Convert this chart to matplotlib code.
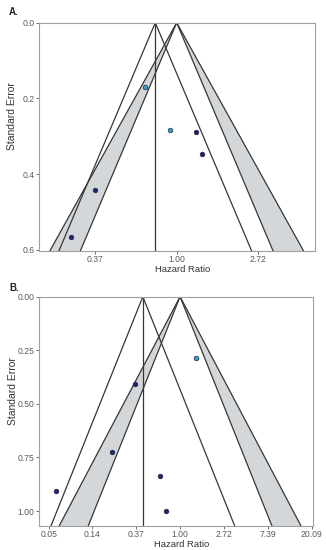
import numpy as np
import matplotlib
matplotlib.use("Agg")
import matplotlib.pyplot as plt

# ---- Data (log hazard ratio, standard error) ----
a_lnhr = [-0.385, -0.086, 0.233, 0.314, -1.006, -1.297]
a_se = [0.170, 0.283, 0.288, 0.346, 0.443, 0.567]
a_group = ["cyan", "cyan", "navy", "navy", "navy", "navy"]
a_pooled = -0.263

b_lnhr = [0.365, -1.02, -1.56, -0.457, -2.83, -0.326]
b_se = [0.286, 0.406, 0.723, 0.837, 0.908, 1.00]
b_group = ["cyan", "navy", "navy", "navy", "navy", "navy"]
b_pooled = -0.85

a_xticks = [-1, 0, 1]
b_xticks = [-3, -2, -1, 0, 1, 2, 3]
a_yticks = [0.0, 0.2, 0.4, 0.6]
a_ylabels = ["0.0", "0.2", "0.4", "0.6"]
b_yticks = [0.0, 0.25, 0.5, 0.75, 1.0]
b_ylabels = ["0.00", "0.25", "0.50", "0.75", "1.00"]

z_inner, z_outer = 1.96, 2.58

colors = {"navy": "#1c2570", "cyan": "#2aaac4"}
LINE = "#363636"
FILL = "#d4d7da"
SPINE = "#a0a0a0"
TXT = "#5a5a5a"
NARROW = ["Liberation Sans Narrow", "Liberation Sans", "DejaVu Sans"]
REG = ["Liberation Sans", "DejaVu Sans"]

fig = plt.figure(figsize=(3.26, 5.5), dpi=100)


def panel(rect, lnhr, se, group, pooled, xlim, ylim, xticks, yticks, ylabels, letter, lpos):
    ax = fig.add_axes(rect)
    s = np.array([0.0, 3.0])
    # contour-enhanced shading centred at HR = 1
    for sign in (-1, 1):
        ax.fill_betweenx(s, sign * z_inner * s, sign * z_outer * s,
                         color=FILL, lw=0, zorder=1)
        for z in (z_inner, z_outer):
            ax.plot(sign * z * s, s, color=LINE, lw=0.9, zorder=2)
        # pooled-estimate funnel
        ax.plot(pooled + sign * z_inner * s, s, color=LINE, lw=0.9, zorder=2)
    ax.plot([pooled, pooled], [0, ylim[1]], color=LINE, lw=0.9, zorder=2)
    for x, y, g in zip(lnhr, se, group):
        ax.scatter(x, y, s=11, color=colors[g], edgecolor="#222244",
                   linewidth=0.5, zorder=4)
    ax.set_xlim(*xlim)
    ax.set_ylim(ylim[1], ylim[0])
    ax.set_xticks(xticks)
    ax.set_xticklabels(["%.2f" % np.exp(t) for t in xticks], family=NARROW)
    ax.set_yticks(yticks)
    ax.set_yticklabels(ylabels, family=NARROW)
    ax.tick_params(labelsize=6.2, colors=TXT, length=2, width=0.6, pad=1.3)
    for sp in ax.spines.values():
        sp.set_color(SPINE)
        sp.set_linewidth(0.8)
    ax.set_xlabel("Hazard Ratio", fontsize=6.8, color="#333333", family=NARROW)
    ax.set_ylabel("Standard Error", fontsize=7.5, color="#333333", family=REG)
    ax.xaxis.set_label_coords(0.52, -0.064)
    ax.yaxis.set_label_coords(-0.078, 0.59)
    fig.text(lpos[0], lpos[1], letter, fontsize=7, fontweight="bold",
             color="#222222", ha="left", va="center", family=REG)
    return ax


panel([0.1196, 0.5442, 0.8466, 0.4145], a_lnhr, a_se, a_group, a_pooled,
      (-1.69, 1.697), (0.0, 0.6027), a_xticks, a_yticks, a_ylabels, "A.", (0.028, 0.978))
panel([0.1196, 0.0442, 0.8414, 0.4164], b_lnhr, b_se, b_group, b_pooled,
      (-3.22, 3.04), (0.0, 1.0685), b_xticks, b_yticks, b_ylabels, "B.", (0.028, 0.476))

fig.savefig("out.png", dpi=100)
